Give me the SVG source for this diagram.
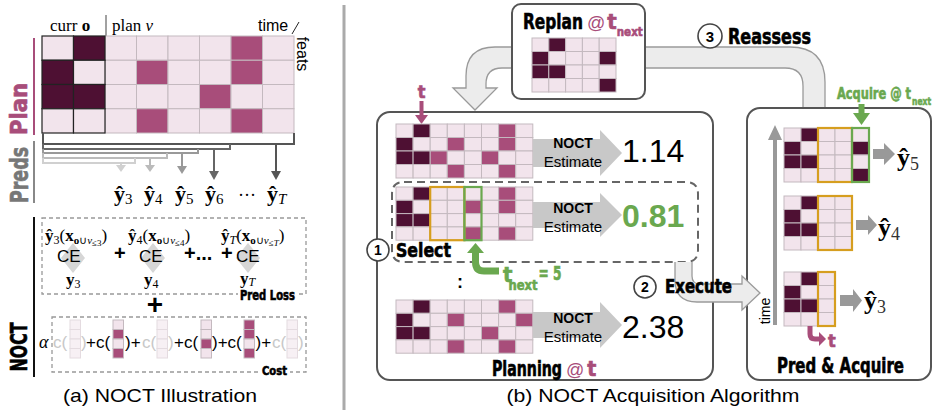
<svg xmlns="http://www.w3.org/2000/svg" width="942" height="415" viewBox="0 0 942 415">
<style>
.L{fill:#f2e4ec}.D{fill:#4e1033}.M{fill:#a84d7a}
.g rect{stroke:#c4b9bf;stroke-width:1}
.cur rect{stroke:#222;stroke-width:1.2}
.fd rect{fill:#f7f0f4;stroke:#e4dbe0;stroke-width:1}
.cc rect{stroke:#c4b9bf;stroke-width:1}
.cond{font-family:"DejaVu Sans Condensed","Liberation Sans Narrow","Liberation Sans",sans-serif;font-weight:bold;stroke:#000;stroke-width:0.6}
.pk{fill:#a84d7a;stroke:#a84d7a}
.gr{fill:#6aa84f;stroke:#6aa84f}
.gy{fill:#777;stroke:#777}
.at{font-family:"Liberation Sans",Arial,sans-serif;font-weight:normal;stroke:none}
.sans{font-family:"Liberation Sans",Arial,sans-serif}
.serif{font-family:"Liberation Serif","Times New Roman",serif}
.box{fill:#fff;stroke:#555;stroke-width:2}
.dash{fill:none;stroke:#999;stroke-width:1.3;stroke-dasharray:4 3}
.bigarrow{fill:#ececec;stroke:#9a9a9a;stroke-width:1.3}
.nest{fill:#c8c8c8}
.orange{fill:none;stroke:#d69e1f;stroke-width:2.2}
.green{fill:none;stroke:#6aa84f;stroke-width:2.2}
.num{font-family:"Liberation Sans",Arial,sans-serif;font-size:32px}
.circ{fill:#fff;stroke:#444;stroke-width:1.6}
</style>

<!-- ===== LEFT PANEL ===== -->
<g id="plan-header">
  <text class="serif" x="50" y="31" font-size="17">curr <tspan font-weight="bold">o</tspan></text>
  <line x1="106" y1="15" x2="106" y2="36" stroke="#444" stroke-width="1"/>
  <text class="serif" x="112" y="31" font-size="17">plan <tspan font-style="italic">v</tspan></text>
  <text class="sans" x="258" y="31" font-size="16">time</text>
  <line x1="292" y1="34" x2="299" y2="22" stroke="#222" stroke-width="1"/>
  <text class="sans" x="297" y="54" font-size="16" text-anchor="middle" transform="rotate(90 297 54)">feats</text>
</g>

<g id="plan-label">
  <line x1="34" y1="38" x2="34" y2="135" stroke="#a84d7a" stroke-width="2"/>
  <text class="cond pk" x="27" y="109" font-size="23" text-anchor="middle" textLength="52" lengthAdjust="spacingAndGlyphs" transform="rotate(-90 27 109)">Plan</text>
</g>

<g id="plan-grid" class="g">
  <rect class="L" x="105" y="36" width="31.5" height="24.25"/><rect class="L" x="136.5" y="36" width="31.5" height="24.25"/><rect class="L" x="168" y="36" width="31.5" height="24.25"/><rect class="L" x="199.5" y="36" width="31.5" height="24.25"/><rect class="M" x="231" y="36" width="31.5" height="24.25"/><rect class="L" x="262.5" y="36" width="31.5" height="24.25"/>
  <rect class="L" x="105" y="60.25" width="31.5" height="24.25"/><rect class="M" x="136.5" y="60.25" width="31.5" height="24.25"/><rect class="L" x="168" y="60.25" width="31.5" height="24.25"/><rect class="L" x="199.5" y="60.25" width="31.5" height="24.25"/><rect class="M" x="231" y="60.25" width="31.5" height="24.25"/><rect class="L" x="262.5" y="60.25" width="31.5" height="24.25"/>
  <rect class="L" x="105" y="84.5" width="31.5" height="24.25"/><rect class="L" x="136.5" y="84.5" width="31.5" height="24.25"/><rect class="L" x="168" y="84.5" width="31.5" height="24.25"/><rect class="M" x="199.5" y="84.5" width="31.5" height="24.25"/><rect class="L" x="231" y="84.5" width="31.5" height="24.25"/><rect class="L" x="262.5" y="84.5" width="31.5" height="24.25"/>
  <rect class="L" x="105" y="108.75" width="31.5" height="24.25"/><rect class="M" x="136.5" y="108.75" width="31.5" height="24.25"/><rect class="L" x="168" y="108.75" width="31.5" height="24.25"/><rect class="L" x="199.5" y="108.75" width="31.5" height="24.25"/><rect class="M" x="231" y="108.75" width="31.5" height="24.25"/><rect class="L" x="262.5" y="108.75" width="31.5" height="24.25"/>
  <g class="cur">
    <rect class="L" x="42" y="36" width="31.5" height="24.25"/><rect class="D" x="73.5" y="36" width="31.5" height="24.25"/>
    <rect class="D" x="42" y="60.25" width="31.5" height="24.25"/><rect class="L" x="73.5" y="60.25" width="31.5" height="24.25"/>
    <rect class="D" x="42" y="84.5" width="31.5" height="24.25"/><rect class="D" x="73.5" y="84.5" width="31.5" height="24.25"/>
    <rect class="L" x="42" y="108.75" width="31.5" height="24.25"/><rect class="L" x="73.5" y="108.75" width="31.5" height="24.25"/>
  </g>
</g>

<g id="preds-label">
  <line x1="34" y1="141" x2="34" y2="203" stroke="#888" stroke-width="2"/>
  <text class="cond gy" x="28" y="175" font-size="24" text-anchor="middle" textLength="56" lengthAdjust="spacingAndGlyphs" transform="rotate(-90 28 175)">Preds</text>
</g>

<g id="preds-connectors" fill="none" stroke-width="2">
  <path d="M43 133 V144 H294 V133" stroke="#555"/>
  <path d="M43 144 V149 H230 V144" stroke="#666"/>
  <path d="M43 149 V153 H198 V149" stroke="#999"/>
  <path d="M43 153 V158 H167 V153" stroke="#bbb"/>
  <path d="M43 158 V163 H135 V158" stroke="#d0d0d0"/>
  <line x1="276" y1="144" x2="276" y2="172" stroke="#555"/>
  <line x1="214" y1="149" x2="214" y2="172" stroke="#666"/>
  <line x1="182" y1="153" x2="182" y2="167" stroke="#999"/>
  <line x1="150" y1="158" x2="150" y2="166" stroke="#bbb"/>
  <line x1="121" y1="163" x2="121" y2="166" stroke="#d0d0d0"/>
  <polygon points="271,171 281,171 276,180" fill="#555" stroke="none"/>
  <polygon points="209,171 219,171 214,180" fill="#666" stroke="none"/>
  <polygon points="177,166 187,166 182,174" fill="#999" stroke="none"/>
  <polygon points="145,165 155,165 150,172" fill="#bbb" stroke="none"/>
  <polygon points="116,165 126,165 121,172" fill="#d0d0d0" stroke="none"/>
</g>

<g id="preds-outputs" class="serif" font-size="22">
  <text x="114" y="201"><tspan font-weight="bold">ŷ</tspan><tspan font-size="15" dy="3">3</tspan></text>
  <text x="144" y="201"><tspan font-weight="bold">ŷ</tspan><tspan font-size="15" dy="3">4</tspan></text>
  <text x="175" y="201"><tspan font-weight="bold">ŷ</tspan><tspan font-size="15" dy="3">5</tspan></text>
  <text x="205" y="201"><tspan font-weight="bold">ŷ</tspan><tspan font-size="15" dy="3">6</tspan></text>
  <text x="238" y="201" font-size="18">···</text>
  <text x="267" y="201"><tspan font-weight="bold">ŷ</tspan><tspan font-size="15" dy="3" font-style="italic">T</tspan></text>
</g>

<g id="noct-label">
  <line x1="34" y1="217" x2="34" y2="377" stroke="#111" stroke-width="2"/>
  <text class="cond" x="27" y="347" font-size="23" text-anchor="middle" textLength="49" lengthAdjust="spacingAndGlyphs" transform="rotate(-90 27 347)">NOCT</text>
</g>

<g id="pred-loss">
  <rect class="dash" x="42" y="218" width="264" height="76"/>
  <polygon points="73,243 85,258 73,273 61,258" fill="#d6d6d6"/>
  <polygon points="153,243 165,258 153,273 141,258" fill="#d6d6d6"/>
  <polygon points="248,243 260,258 248,273 236,258" fill="#d6d6d6"/>
  <text class="serif" x="45" y="241" font-size="17"><tspan font-weight="bold">ŷ</tspan><tspan font-size="12" dy="3">3</tspan><tspan dy="-3">(</tspan><tspan font-weight="bold">x</tspan><tspan font-size="11" dy="3"><tspan font-weight="bold">o</tspan>∪<tspan font-style="italic">v</tspan></tspan><tspan font-size="9" dy="2">≤3</tspan><tspan dy="-5">)</tspan></text>
  <text class="serif" x="128" y="241" font-size="17"><tspan font-weight="bold">ŷ</tspan><tspan font-size="12" dy="3">4</tspan><tspan dy="-3">(</tspan><tspan font-weight="bold">x</tspan><tspan font-size="11" dy="3"><tspan font-weight="bold">o</tspan>∪<tspan font-style="italic">v</tspan></tspan><tspan font-size="9" dy="2">≤4</tspan><tspan dy="-5">)</tspan></text>
  <text class="serif" x="221" y="241" font-size="17"><tspan font-weight="bold">ŷ</tspan><tspan font-size="12" dy="3" font-style="italic">T</tspan><tspan dy="-3">(</tspan><tspan font-weight="bold">x</tspan><tspan font-size="11" dy="3"><tspan font-weight="bold">o</tspan>∪<tspan font-style="italic">v</tspan></tspan><tspan font-size="9" dy="2">≤<tspan font-style="italic">T</tspan></tspan><tspan dy="-5">)</tspan></text>
  <text class="sans" x="57" y="262" font-size="17">CE</text>
  <text class="sans" x="139" y="262" font-size="17">CE</text>
  <text class="sans" x="236" y="262" font-size="17">CE</text>
  <text class="sans" x="114" y="260" font-size="20" font-weight="bold">+</text>
  <text class="sans" x="184" y="260" font-size="20" font-weight="bold">+...</text>
  <text class="sans" x="221" y="260" font-size="20" font-weight="bold">+</text>
  <text class="serif" x="66" y="285" font-size="17"><tspan font-weight="bold">y</tspan><tspan font-size="12" dy="3">3</tspan></text>
  <text class="serif" x="144" y="285" font-size="17"><tspan font-weight="bold">y</tspan><tspan font-size="12" dy="3">4</tspan></text>
  <text class="serif" x="240" y="284" font-size="17"><tspan font-weight="bold">y</tspan><tspan font-size="12" dy="2" font-style="italic">T</tspan></text>
  <rect x="238" y="290" width="59" height="11" fill="#fff"/>
  <text class="cond" x="240" y="300" font-size="14" textLength="55" lengthAdjust="spacingAndGlyphs">Pred Loss</text>
</g>

<text class="sans" x="155" y="314" font-size="28" font-weight="bold" text-anchor="middle">+</text>

<g id="cost">
  <rect class="dash" x="52" y="317" width="254" height="55"/>
  <text class="serif" x="39" y="348" font-size="18" font-style="italic">α</text>
  <g class="sans" font-size="17">
    <text x="53" y="348" fill="#c8c8c8">c(</text>
    <text x="81" y="348" fill="#c8c8c8">)</text>
    <text x="86" y="348">+c(</text>
    <text x="125" y="348">)+</text>
    <text x="142" y="348" fill="#c8c8c8">c(</text>
    <text x="168" y="348" fill="#c8c8c8">)</text>
    <text x="174" y="348">+c(</text>
    <text x="212" y="348">)+c(</text>
    <text x="255.5" y="348">)+</text>
    <text x="272" y="348" fill="#c8c8c8">c(</text>
    <text x="298" y="348" fill="#c8c8c8">)</text>
  </g>
  <g class="fd">
    <rect x="70" y="320" width="10.5" height="9.5"/><rect x="70" y="329.5" width="10.5" height="9.5"/><rect x="70" y="339" width="10.5" height="9.5"/><rect x="70" y="348.5" width="10.5" height="9.5"/>
    <rect x="157" y="320" width="10.5" height="9.5"/><rect x="157" y="329.5" width="10.5" height="9.5"/><rect x="157" y="339" width="10.5" height="9.5"/><rect x="157" y="348.5" width="10.5" height="9.5"/>
    <rect x="287" y="320" width="10.5" height="9.5"/><rect x="287" y="329.5" width="10.5" height="9.5"/><rect x="287" y="339" width="10.5" height="9.5"/><rect x="287" y="348.5" width="10.5" height="9.5"/>
  </g>
  <g class="cc">
    <rect class="L" x="113" y="320" width="10.5" height="9.5"/><rect class="M" x="113" y="329.5" width="10.5" height="9.5"/><rect class="L" x="113" y="339" width="10.5" height="9.5"/><rect class="M" x="113" y="348.5" width="10.5" height="9.5"/>
    <rect class="L" x="201" y="320" width="10.5" height="9.5"/><rect class="L" x="201" y="329.5" width="10.5" height="9.5"/><rect class="M" x="201" y="339" width="10.5" height="9.5"/><rect class="L" x="201" y="348.5" width="10.5" height="9.5"/>
    <rect class="M" x="244" y="320" width="10.5" height="9.5"/><rect class="M" x="244" y="329.5" width="10.5" height="9.5"/><rect class="L" x="244" y="339" width="10.5" height="9.5"/><rect class="M" x="244" y="348.5" width="10.5" height="9.5"/>
  </g>
  <rect x="260" y="365" width="30" height="11" fill="#fff"/>
  <text class="cond" x="262" y="375" font-size="13" textLength="25" lengthAdjust="spacingAndGlyphs">Cost</text>
</g>

<text class="sans" x="160" y="402" font-size="19" text-anchor="middle" textLength="194" lengthAdjust="spacingAndGlyphs">(a) NOCT Illustration</text>

<line x1="344" y1="5" x2="344" y2="410" stroke="#aaa" stroke-width="3"/>

<!-- ===== RIGHT PANEL ===== -->
<g id="connectors">
  <path class="bigarrow" d="M512 47 H495 Q466 47 466 76 V88 H453 L475 110 L497 88 H486 V84 Q486 68 502 68 H512 Z"/>
  <path class="bigarrow" d="M645 47 H790 Q825 47 825 82 V109 H803 V86 Q803 68 785 68 H645 Z"/>
</g>

<g id="reassess-label">
  <circle class="circ" cx="710" cy="36" r="12"/>
  <text class="sans" x="710" y="41.5" font-size="15" font-weight="bold" text-anchor="middle">3</text>
  <text class="cond" x="728" y="44" font-size="21" textLength="83" lengthAdjust="spacingAndGlyphs">Reassess</text>
</g>

<g id="replan">
  <rect class="box" x="512" y="4" width="133" height="95" rx="9"/>
  <text class="cond" x="523" y="29" font-size="22"><tspan textLength="60" lengthAdjust="spacingAndGlyphs">Replan</tspan><tspan class="pk at" font-size="18" dx="4">@</tspan><tspan class="pk" dx="2">t</tspan><tspan class="pk" font-size="13" dy="7" textLength="26" lengthAdjust="spacingAndGlyphs">next</tspan></text>
  <g class="g">
    <rect class="L" x="532" y="38" width="16.8" height="13.5"/><rect class="D" x="548.8" y="38" width="16.8" height="13.5"/><rect class="L" x="565.6" y="38" width="16.8" height="13.5"/><rect class="L" x="582.4" y="38" width="16.8" height="13.5"/><rect class="L" x="599.2" y="38" width="16.8" height="13.5"/>
    <rect class="D" x="532" y="51.5" width="16.8" height="13.5"/><rect class="L" x="548.8" y="51.5" width="16.8" height="13.5"/><rect class="L" x="565.6" y="51.5" width="16.8" height="13.5"/><rect class="L" x="582.4" y="51.5" width="16.8" height="13.5"/><rect class="D" x="599.2" y="51.5" width="16.8" height="13.5"/>
    <rect class="D" x="532" y="65" width="16.8" height="13.5"/><rect class="D" x="548.8" y="65" width="16.8" height="13.5"/><rect class="L" x="565.6" y="65" width="16.8" height="13.5"/><rect class="L" x="582.4" y="65" width="16.8" height="13.5"/><rect class="L" x="599.2" y="65" width="16.8" height="13.5"/>
    <rect class="L" x="532" y="78.5" width="16.8" height="13.5"/><rect class="L" x="548.8" y="78.5" width="16.8" height="13.5"/><rect class="L" x="565.6" y="78.5" width="16.8" height="13.5"/><rect class="L" x="582.4" y="78.5" width="16.8" height="13.5"/><rect class="D" x="599.2" y="78.5" width="16.8" height="13.5"/>
  </g>
</g>

<g id="planning">
  <rect class="box" x="377" y="112" width="336" height="268" rx="13"/>
  <text class="cond pk" x="421.5" y="98" font-size="18" text-anchor="middle">t</text>
  <rect x="419.5" y="101" width="4" height="15" fill="#a84d7a"/>
  <polygon points="415,115 428,115 421.5,124" fill="#a84d7a"/>

  <g class="g">
    <rect class="L" x="396" y="124" width="17.1" height="13.5"/><rect class="D" x="413.1" y="124" width="17.1" height="13.5"/><rect class="L" x="430.2" y="124" width="17.1" height="13.5"/><rect class="L" x="447.3" y="124" width="17.1" height="13.5"/><rect class="L" x="464.4" y="124" width="17.1" height="13.5"/><rect class="L" x="481.5" y="124" width="17.1" height="13.5"/><rect class="M" x="498.6" y="124" width="17.1" height="13.5"/><rect class="L" x="515.7" y="124" width="17.1" height="13.5"/>
    <rect class="D" x="396" y="137.5" width="17.1" height="13.5"/><rect class="L" x="413.1" y="137.5" width="17.1" height="13.5"/><rect class="L" x="430.2" y="137.5" width="17.1" height="13.5"/><rect class="M" x="447.3" y="137.5" width="17.1" height="13.5"/><rect class="L" x="464.4" y="137.5" width="17.1" height="13.5"/><rect class="L" x="481.5" y="137.5" width="17.1" height="13.5"/><rect class="M" x="498.6" y="137.5" width="17.1" height="13.5"/><rect class="L" x="515.7" y="137.5" width="17.1" height="13.5"/>
    <rect class="D" x="396" y="151" width="17.1" height="13.5"/><rect class="D" x="413.1" y="151" width="17.1" height="13.5"/><rect class="M" x="430.2" y="151" width="17.1" height="13.5"/><rect class="L" x="447.3" y="151" width="17.1" height="13.5"/><rect class="L" x="464.4" y="151" width="17.1" height="13.5"/><rect class="M" x="481.5" y="151" width="17.1" height="13.5"/><rect class="L" x="498.6" y="151" width="17.1" height="13.5"/><rect class="L" x="515.7" y="151" width="17.1" height="13.5"/>
    <rect class="L" x="396" y="164.5" width="17.1" height="13.5"/><rect class="L" x="413.1" y="164.5" width="17.1" height="13.5"/><rect class="L" x="430.2" y="164.5" width="17.1" height="13.5"/><rect class="M" x="447.3" y="164.5" width="17.1" height="13.5"/><rect class="L" x="464.4" y="164.5" width="17.1" height="13.5"/><rect class="L" x="481.5" y="164.5" width="17.1" height="13.5"/><rect class="M" x="498.6" y="164.5" width="17.1" height="13.5"/><rect class="L" x="515.7" y="164.5" width="17.1" height="13.5"/>
  </g>
  <polygon class="nest" points="533,139 600,139 600,130 622,153 600,176 600,167 533,167"/>
  <text class="sans" x="573" y="148" font-size="14" font-weight="bold" text-anchor="middle">NOCT</text>
  <text class="sans" x="573" y="167" font-size="15" text-anchor="middle">Estimate</text>
  <text class="num" x="622" y="162">1.14</text>

  <path d="M404 182 H686 Q698 182 698 194 V250 Q698 262 686 262 H404 Q392 262 392 250 V194 Q392 182 404 182 Z" fill="none" stroke="#666" stroke-width="2" stroke-dasharray="8 5"/>

  <g class="g">
    <rect class="L" x="396" y="187" width="17.1" height="13.3"/><rect class="D" x="413.1" y="187" width="17.1" height="13.3"/><rect class="L" x="430.2" y="187" width="17.1" height="13.3"/><rect class="L" x="447.3" y="187" width="17.1" height="13.3"/><rect class="L" x="464.4" y="187" width="17.1" height="13.3"/><rect class="L" x="481.5" y="187" width="17.1" height="13.3"/><rect class="M" x="498.6" y="187" width="17.1" height="13.3"/><rect class="L" x="515.7" y="187" width="17.1" height="13.3"/>
    <rect class="D" x="396" y="200.3" width="17.1" height="13.3"/><rect class="L" x="413.1" y="200.3" width="17.1" height="13.3"/><rect class="L" x="430.2" y="200.3" width="17.1" height="13.3"/><rect class="L" x="447.3" y="200.3" width="17.1" height="13.3"/><rect class="M" x="464.4" y="200.3" width="17.1" height="13.3"/><rect class="L" x="481.5" y="200.3" width="17.1" height="13.3"/><rect class="M" x="498.6" y="200.3" width="17.1" height="13.3"/><rect class="L" x="515.7" y="200.3" width="17.1" height="13.3"/>
    <rect class="D" x="396" y="213.6" width="17.1" height="13.3"/><rect class="D" x="413.1" y="213.6" width="17.1" height="13.3"/><rect class="L" x="430.2" y="213.6" width="17.1" height="13.3"/><rect class="L" x="447.3" y="213.6" width="17.1" height="13.3"/><rect class="L" x="464.4" y="213.6" width="17.1" height="13.3"/><rect class="L" x="481.5" y="213.6" width="17.1" height="13.3"/><rect class="L" x="498.6" y="213.6" width="17.1" height="13.3"/><rect class="L" x="515.7" y="213.6" width="17.1" height="13.3"/>
    <rect class="L" x="396" y="226.9" width="17.1" height="13.3"/><rect class="L" x="413.1" y="226.9" width="17.1" height="13.3"/><rect class="L" x="430.2" y="226.9" width="17.1" height="13.3"/><rect class="L" x="447.3" y="226.9" width="17.1" height="13.3"/><rect class="M" x="464.4" y="226.9" width="17.1" height="13.3"/><rect class="L" x="481.5" y="226.9" width="17.1" height="13.3"/><rect class="M" x="498.6" y="226.9" width="17.1" height="13.3"/><rect class="L" x="515.7" y="226.9" width="17.1" height="13.3"/>
  </g>
  <rect class="orange" x="430.2" y="187" width="34.2" height="53.2"/>
  <rect class="green" x="464.4" y="187" width="17.1" height="53.2"/>
  <polygon class="nest" points="533,202 600,202 600,193 622,215 600,237 600,228 533,228"/>
  <text class="sans" x="573" y="213" font-size="14" font-weight="bold" text-anchor="middle">NOCT</text>
  <text class="sans" x="573" y="232" font-size="15" text-anchor="middle">Estimate</text>
  <text class="num" x="622" y="227" font-weight="bold" fill="#6aa84f">0.81</text>

  <circle class="circ" cx="378" cy="250" r="11"/>
  <text class="sans" x="378" y="255" font-size="14" font-weight="bold" text-anchor="middle">1</text>
  <text class="cond" x="396" y="257" font-size="20" textLength="55" lengthAdjust="spacingAndGlyphs">Select</text>

  <path d="M475.5 252 V262 Q475.5 271 484 271 H499" fill="none" stroke="#6aa84f" stroke-width="7"/>
  <polygon points="467,253 484,253 475.5,243" fill="#6aa84f"/>
  <text class="cond gr" x="503" y="282" font-size="22">t<tspan font-size="14" dx="-4" dy="8" textLength="29" lengthAdjust="spacingAndGlyphs">next</tspan><tspan font-size="19" dx="1" dy="-10" textLength="23" lengthAdjust="spacingAndGlyphs">= 5</tspan></text>

  <text class="sans" x="460" y="288" font-size="18" font-weight="bold" text-anchor="middle">:</text>

  <g class="g">
    <rect class="L" x="396" y="300" width="17.1" height="13.3"/><rect class="D" x="413.1" y="300" width="17.1" height="13.3"/><rect class="L" x="430.2" y="300" width="17.1" height="13.3"/><rect class="L" x="447.3" y="300" width="17.1" height="13.3"/><rect class="L" x="464.4" y="300" width="17.1" height="13.3"/><rect class="L" x="481.5" y="300" width="17.1" height="13.3"/><rect class="M" x="498.6" y="300" width="17.1" height="13.3"/><rect class="L" x="515.7" y="300" width="17.1" height="13.3"/>
    <rect class="D" x="396" y="313.3" width="17.1" height="13.3"/><rect class="L" x="413.1" y="313.3" width="17.1" height="13.3"/><rect class="L" x="430.2" y="313.3" width="17.1" height="13.3"/><rect class="M" x="447.3" y="313.3" width="17.1" height="13.3"/><rect class="L" x="464.4" y="313.3" width="17.1" height="13.3"/><rect class="L" x="481.5" y="313.3" width="17.1" height="13.3"/><rect class="L" x="498.6" y="313.3" width="17.1" height="13.3"/><rect class="M" x="515.7" y="313.3" width="17.1" height="13.3"/>
    <rect class="D" x="396" y="326.6" width="17.1" height="13.3"/><rect class="D" x="413.1" y="326.6" width="17.1" height="13.3"/><rect class="L" x="430.2" y="326.6" width="17.1" height="13.3"/><rect class="L" x="447.3" y="326.6" width="17.1" height="13.3"/><rect class="L" x="464.4" y="326.6" width="17.1" height="13.3"/><rect class="M" x="481.5" y="326.6" width="17.1" height="13.3"/><rect class="L" x="498.6" y="326.6" width="17.1" height="13.3"/><rect class="L" x="515.7" y="326.6" width="17.1" height="13.3"/>
    <rect class="L" x="396" y="339.9" width="17.1" height="13.3"/><rect class="L" x="413.1" y="339.9" width="17.1" height="13.3"/><rect class="L" x="430.2" y="339.9" width="17.1" height="13.3"/><rect class="M" x="447.3" y="339.9" width="17.1" height="13.3"/><rect class="L" x="464.4" y="339.9" width="17.1" height="13.3"/><rect class="L" x="481.5" y="339.9" width="17.1" height="13.3"/><rect class="M" x="498.6" y="339.9" width="17.1" height="13.3"/><rect class="L" x="515.7" y="339.9" width="17.1" height="13.3"/>
  </g>
  <polygon class="nest" points="533,312 600,312 600,302 622,325 600,348 600,338 533,338"/>
  <text class="sans" x="573" y="323" font-size="14" font-weight="bold" text-anchor="middle">NOCT</text>
  <text class="sans" x="573" y="342" font-size="15" text-anchor="middle">Estimate</text>
  <text class="num" x="622" y="338">2.38</text>

  <text class="cond" x="492" y="376" font-size="21"><tspan textLength="70" lengthAdjust="spacingAndGlyphs">Planning</tspan><tspan class="pk at" font-size="18" dx="4">@</tspan><tspan class="pk" dx="3">t</tspan></text>
</g>

<g id="pred-acquire">
  <rect class="box" x="747" y="108" width="184" height="272" rx="13"/>
  <line x1="775" y1="325" x2="775" y2="138" stroke="#999" stroke-width="4"/>
  <polygon points="768,140 782,140 775,125" fill="#999"/>
  <text class="sans" x="770" y="311" font-size="14" text-anchor="middle" transform="rotate(-90 770 311)">time</text>

  <text class="cond gr" x="837" y="99" font-size="16"><tspan textLength="74" lengthAdjust="spacingAndGlyphs">Acquire @ t</tspan><tspan font-size="11" dx="1" dy="6" textLength="19" lengthAdjust="spacingAndGlyphs">next</tspan></text>
  <rect x="858.5" y="104" width="6" height="10" fill="#6aa84f"/>
  <polygon points="853,113 870,113 861.5,125" fill="#6aa84f"/>

  <g class="g">
    <rect class="L" x="784" y="128" width="17" height="13.5"/><rect class="D" x="801" y="128" width="17" height="13.5"/><rect class="L" x="818" y="128" width="17" height="13.5"/><rect class="L" x="835" y="128" width="17" height="13.5"/><rect class="L" x="852" y="128" width="17" height="13.5"/>
    <rect class="D" x="784" y="141.5" width="17" height="13.5"/><rect class="L" x="801" y="141.5" width="17" height="13.5"/><rect class="L" x="818" y="141.5" width="17" height="13.5"/><rect class="L" x="835" y="141.5" width="17" height="13.5"/><rect class="D" x="852" y="141.5" width="17" height="13.5"/>
    <rect class="D" x="784" y="155" width="17" height="13.5"/><rect class="D" x="801" y="155" width="17" height="13.5"/><rect class="L" x="818" y="155" width="17" height="13.5"/><rect class="L" x="835" y="155" width="17" height="13.5"/><rect class="L" x="852" y="155" width="17" height="13.5"/>
    <rect class="L" x="784" y="168.5" width="17" height="13.5"/><rect class="L" x="801" y="168.5" width="17" height="13.5"/><rect class="L" x="818" y="168.5" width="17" height="13.5"/><rect class="L" x="835" y="168.5" width="17" height="13.5"/><rect class="D" x="852" y="168.5" width="17" height="13.5"/>
  </g>
  <rect class="orange" x="818" y="128" width="34" height="54"/>
  <rect class="green" x="852" y="128" width="17" height="54"/>
  <polygon points="873,149 884,149 884,143 895,154 884,165 884,159 873,159" fill="#999"/>
  <text class="serif" x="897" y="166" font-size="26"><tspan font-weight="bold">ŷ</tspan><tspan font-size="18" dy="4" fill="#333">5</tspan></text>

  <g class="g">
    <rect class="L" x="784" y="196" width="17" height="13.5"/><rect class="D" x="801" y="196" width="17" height="13.5"/><rect class="L" x="818" y="196" width="17" height="13.5"/><rect class="L" x="835" y="196" width="17" height="13.5"/>
    <rect class="D" x="784" y="209.5" width="17" height="13.5"/><rect class="L" x="801" y="209.5" width="17" height="13.5"/><rect class="L" x="818" y="209.5" width="17" height="13.5"/><rect class="L" x="835" y="209.5" width="17" height="13.5"/>
    <rect class="D" x="784" y="223" width="17" height="13.5"/><rect class="D" x="801" y="223" width="17" height="13.5"/><rect class="L" x="818" y="223" width="17" height="13.5"/><rect class="L" x="835" y="223" width="17" height="13.5"/>
    <rect class="L" x="784" y="236.5" width="17" height="13.5"/><rect class="L" x="801" y="236.5" width="17" height="13.5"/><rect class="L" x="818" y="236.5" width="17" height="13.5"/><rect class="L" x="835" y="236.5" width="17" height="13.5"/>
  </g>
  <rect class="orange" x="818" y="196" width="34" height="54"/>
  <polygon points="856,220 868,220 868,215 877,225 868,235 868,230 856,230" fill="#999"/>
  <text class="serif" x="878" y="236" font-size="26"><tspan font-weight="bold">ŷ</tspan><tspan font-size="18" dy="4" fill="#333">4</tspan></text>

  <g class="g">
    <rect class="L" x="784" y="272" width="17" height="13.5"/><rect class="D" x="801" y="272" width="17" height="13.5"/><rect class="L" x="818" y="272" width="17" height="13.5"/>
    <rect class="D" x="784" y="285.5" width="17" height="13.5"/><rect class="L" x="801" y="285.5" width="17" height="13.5"/><rect class="L" x="818" y="285.5" width="17" height="13.5"/>
    <rect class="D" x="784" y="299" width="17" height="13.5"/><rect class="D" x="801" y="299" width="17" height="13.5"/><rect class="L" x="818" y="299" width="17" height="13.5"/>
    <rect class="L" x="784" y="312.5" width="17" height="13.5"/><rect class="L" x="801" y="312.5" width="17" height="13.5"/><rect class="L" x="818" y="312.5" width="17" height="13.5"/>
  </g>
  <rect class="orange" x="818" y="272" width="17" height="54"/>
  <polygon points="840,295 853,295 853,289 862,300.5 853,312 853,306 840,306" fill="#999"/>
  <text class="serif" x="864" y="309" font-size="26"><tspan font-weight="bold">ŷ</tspan><tspan font-size="18" dy="4" fill="#333">3</tspan></text>

  <path d="M810 326 V334 Q810 339 815 339 H820" fill="none" stroke="#a84d7a" stroke-width="5"/>
  <polygon points="819,332 826,339 819,346" fill="#a84d7a"/>
  <text class="cond pk" x="828" y="347" font-size="18">t</text>

  <text class="cond" x="777" y="373" font-size="21" textLength="127" lengthAdjust="spacingAndGlyphs">Pred &amp; Acquire</text>
</g>

<g id="execute">
  <path class="bigarrow" d="M675 262 V280 Q675 302 697 302 H742 V310 L760 293 L742 276 V284 H700 Q692 284 692 276 V262"/>
  <circle class="circ" cx="645" cy="287" r="11"/>
  <text class="sans" x="645" y="292" font-size="14" font-weight="bold" text-anchor="middle">2</text>
  <text class="cond" x="665" y="293" font-size="20" textLength="67" lengthAdjust="spacingAndGlyphs">Execute</text>
</g>

<text class="sans" x="653" y="402" font-size="19" text-anchor="middle" textLength="293" lengthAdjust="spacingAndGlyphs">(b) NOCT Acquisition Algorithm</text>
</svg>
